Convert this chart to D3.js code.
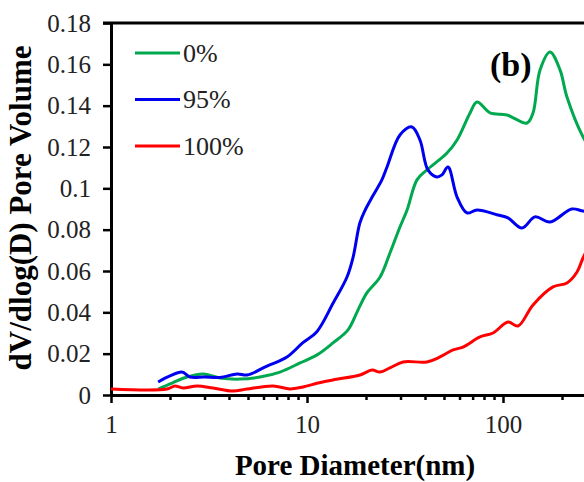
<!DOCTYPE html>
<html>
<head>
<meta charset="utf-8">
<script src="https://cdn.jsdelivr.net/npm/d3@7"></script>
<style>
  body { margin: 0; background: #fff; }
  svg text { font-family: "Liberation Serif", "Times New Roman", serif; }
</style>
</head>
<body>
<div id="vis"></div>
<script>
// pore diameter (nm) / dV/dlog(D) for each sample
var names = ['0%', '95%', '100%'];

var d0 = [1.74, 2.05, 2.44, 2.95, 3.6, 4.55, 5.76, 7.28, 9.21, 11.25, 13.57, 16.19, 18.2, 20.2, 23.6, 26.5, 29.8, 32.4, 36.4, 40.9, 51.8, 58.3, 67.9, 73.7, 85.9, 104.8, 132.6, 142.3, 154.5, 173.7, 195.4, 212, 256, 295];
var v0 = [0.0029, 0.0058, 0.0087, 0.0102, 0.0082, 0.0077, 0.0087, 0.0111, 0.0155, 0.0194, 0.0252, 0.0315, 0.0411, 0.0494, 0.0571, 0.0687, 0.0813, 0.0895, 0.1041, 0.1089, 0.1171, 0.1234, 0.1365, 0.1418, 0.1365, 0.1355, 0.1316, 0.1365, 0.1573, 0.166, 0.1573, 0.1442, 0.1249, 0.116];

var d95 = [1.74, 2.0, 2.3, 2.53, 3.0, 3.6, 4.4, 4.95, 6.25, 7.9, 9.5, 11.2, 13.6, 16.0, 17.2, 18.6, 19.8, 21.5, 24.1, 25.6, 29.8, 34.3, 37.7, 41.4, 46.0, 48.8, 52.4, 58.3, 65.5, 73.7, 94, 106, 125, 145.6, 173.7, 224, 256, 300];
var v95 = [0.0063, 0.0092, 0.0111, 0.0087, 0.0087, 0.0085, 0.0102, 0.0097, 0.014, 0.0184, 0.0252, 0.0305, 0.0445, 0.0571, 0.0668, 0.0832, 0.0895, 0.0958, 0.1041, 0.1103, 0.1258, 0.1297, 0.1234, 0.1089, 0.1055, 0.1065, 0.1103, 0.0958, 0.0881, 0.0895, 0.0871, 0.0857, 0.0808, 0.0862, 0.0837, 0.09, 0.089, 0.088];

var d100 = [1.0, 1.93, 2.12, 2.33, 2.75, 3.31, 4.19, 4.94, 6.71, 8.19, 9.54, 11.38, 13.57, 18.64, 21.46, 23.57, 26.5, 30.9, 40.9, 47.7, 55.6, 62.5, 76.3, 88.9, 106.1, 119.3, 142.3, 179.9, 212, 238.6, 256, 285];
var v100 = [0.0029, 0.0029, 0.0044, 0.0034, 0.0044, 0.0034, 0.0019, 0.0029, 0.0044, 0.0029, 0.0039, 0.0058, 0.0073, 0.0097, 0.0121, 0.0111, 0.0131, 0.016, 0.016, 0.0184, 0.0218, 0.0232, 0.0281, 0.030, 0.0353, 0.0334, 0.0436, 0.0523, 0.0542, 0.0595, 0.0663, 0.075];

var xMajor = [1, 10, 100];
var xLabels = ['1', '10', '100'];
var yTicks = [0, 0.02, 0.04, 0.06, 0.08, 0.1, 0.12, 0.14, 0.16, 0.18];
var yLabels = ['0', '0.02', '0.04', '0.06', '0.08', '0.1', '0.12', '0.14', '0.16', '0.18'];
var colors = ['#00a84f', '#0000f0', '#ff0000'];

var width = 584, height = 482;
var margin = {top: 23, left: 111, bottom: 87};
var plotW = 588, plotH = height - margin.top - margin.bottom;
var serif = '"Liberation Serif", "Times New Roman", serif';

var svg = d3.select('#vis')
  .append('svg')
  .attr('width', width)
  .attr('height', height)
  .append('g')
  .attr('transform', 'translate(' + margin.left + ',' + margin.top + ')');

var xScale = d3.scaleLog().domain([1, 1000]).range([0, plotW]);
var yScale = d3.scaleLinear().domain([0, 0.18]).range([plotH, 0]);

// log ticks: 1..9, 10..90, 100..900
var xAll = [];
xMajor.forEach(function(m) {
  for (var k = 1; k < 10; k++) xAll.push(m * k);
});

var xAxis = svg.append('g')
  .attr('transform', 'translate(0,' + plotH + ')')
  .attr('font-family', serif)
  .call(d3.axisBottom(xScale)
    .tickValues(xAll)
    .tickSize(8)
    .tickSizeOuter(0)
    .tickPadding(12)
    .tickFormat(function(d) {
      var i = xMajor.indexOf(d);
      return i >= 0 ? xLabels[i] : '';
    }));
xAxis.selectAll('.tick line')
  .attr('stroke-width', 2.5)
  .attr('y2', function(d) { return xMajor.indexOf(d) >= 0 ? 8 : 5; });

var yAxis = svg.append('g')
  .attr('font-family', serif)
  .call(d3.axisLeft(yScale)
    .tickValues(yTicks)
    .tickSize(8)
    .tickSizeOuter(0)
    .tickPadding(12)
    .tickFormat(function(d, i) { return yLabels[i]; }));
yAxis.selectAll('.tick line').attr('stroke-width', 2.5);

svg.selectAll('.domain').attr('stroke-width', 3);
svg.selectAll('.tick text')
  .attr('font-size', 25)
  .attr('fill', '#222');

// frame (right side falls outside the page)
svg.append('line')
  .attr('x1', -8).attr('x2', plotW)
  .attr('y1', 0).attr('y2', 0)
  .attr('stroke', '#000').attr('stroke-width', 3);

var line = d3.line()
  .x(function(d) { return xScale(d[0]); })
  .y(function(d) { return yScale(d[1]); })
  .curve(d3.curveCatmullRom.alpha(0.5));

var series = [d3.zip(d0, v0), d3.zip(d95, v95), d3.zip(d100, v100)];
series.forEach(function(s, i) {
  svg.append('path')
    .datum(s)
    .attr('fill', 'none')
    .attr('stroke', colors[i])
    .attr('stroke-width', 3)
    .attr('d', line);
});

// legend
var legend = svg.selectAll('.leg')
  .data(names)
  .enter()
  .append('g')
  .attr('transform', function(d, i) { return 'translate(24,' + (30 + i * 46.5) + ')'; });
legend.append('line')
  .attr('x1', 0).attr('x2', 45)
  .attr('stroke', function(d, i) { return colors[i]; })
  .attr('stroke-width', 3);
legend.append('text')
  .attr('x', 48)
  .attr('dy', '0.33em')
  .attr('font-size', 26)
  .attr('fill', '#222')
  .text(function(d) { return d; });

svg.append('text')
  .attr('x', 379)
  .attr('y', 53)
  .attr('font-size', 34)
  .attr('font-weight', 'bold')
  .text('(b)');

svg.append('text')
  .attr('x', 244)
  .attr('y', plotH + 80)
  .attr('text-anchor', 'middle')
  .attr('font-size', 29)
  .attr('font-weight', 'bold')
  .text('Pore Diameter(nm)');

svg.append('text')
  .attr('transform', 'rotate(-90)')
  .attr('x', -185)
  .attr('y', -80)
  .attr('text-anchor', 'middle')
  .attr('font-size', 31)
  .attr('font-weight', 'bold')
  .text('dV/dlog(D) Pore Volume');
</script>
</body>
</html>
